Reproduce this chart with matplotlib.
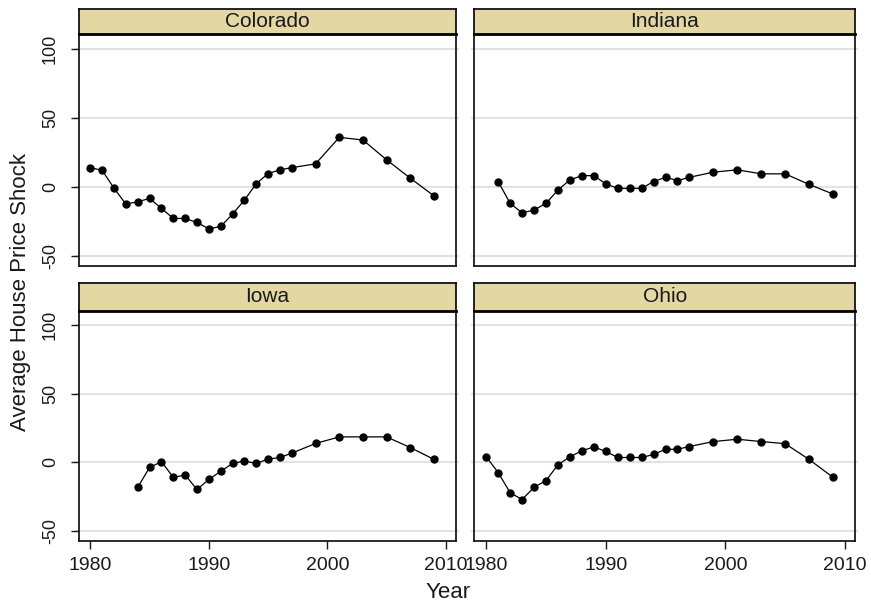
import numpy as np
import matplotlib.pyplot as plt

plt.rcParams['font.family'] = ['Liberation Sans', 'DejaVu Sans']
plt.rcParams['axes.unicode_minus'] = False

W, H = 871, 609

# annual series per state
years_colorado = list(range(1980, 1998)) + [1999, 2001, 2003, 2005, 2007, 2009]
colorado = [14, 12, -1, -12.4, -10.7, -8.3, -15.5, -22.8, -22.8, -25.7, -30.3, -28.6,
            -19.6, -9.5, 2.4, 9.7, 12.4, 14, 16.7, 35.9, 34, 19.6, 6.3, -6.5]

years_indiana = list(range(1981, 1998)) + [1999, 2001, 2003, 2005, 2007, 2009]
indiana = [3.9, -11.9, -18.7, -16.7, -11.9, -2.2, 5.1, 8.2, 8.2, 2.2, -1, -1, -1,
           3.9, 7, 4.6, 7, 10.7, 12.4, 9.5, 9.5, 1.9, -5.1]

years_iowa = list(range(1984, 1998)) + [1999, 2001, 2003, 2005, 2007, 2009]
iowa = [-18.1, -3.6, 0.5, -10.8, -9.2, -19.7, -12.3, -6.5, -0.7, 1, -0.7, 2.4, 3.6,
        6.8, 13.8, 18.6, 18.6, 18.6, 10.8, 2.2]

years_ohio = list(range(1980, 1998)) + [1999, 2001, 2003, 2005, 2007, 2009]
ohio = [4.1, -7.4, -22.1, -27, -18.1, -13.2, -1.7, 4.1, 8.5, 11.3, 8, 3.6, 3.6, 3.6,
        5.8, 9.6, 9.6, 11.6, 15.2, 16.9, 15.2, 13.7, 2.2, -10.8]

states = ['Colorado', 'Indiana', 'Iowa', 'Ohio']
x_ticks = [1980, 1990, 2000, 2010]
y_ticks = [-50, 0, 50, 100]

STRIP = '#e3d8a4'
INK = '#1a1a1a'


def rect(x0, y0, x1, y1):
    # pixel box (top-left origin) -> figure fraction
    return [x0 / W, 1 - y1 / H, (x1 - x0) / W, (y1 - y0) / H]


fig = plt.figure(figsize=(W / 100, H / 100), dpi=100)

cols = [(78.5, 456), (474.3, 855)]
rows = [(9.3, 34.3, 265.7), (283.3, 310.7, 540.7)]
series = [(years_colorado, colorado), (years_indiana, indiana),
          (years_iowa, iowa), (years_ohio, ohio)]

for i, name in enumerate(states):
    r, c = divmod(i, 2)
    x0, x1 = cols[c]
    s0, s1, p1 = rows[r]

    ax = fig.add_axes(rect(x0, s1, x1, p1))
    ax.set_xlim(1979.0, 2010.85)
    ax.set_ylim(-57, 110.5)
    for v in y_ticks:
        ax.axhline(v, xmin=-0.006, xmax=1.006, color='#e2e2e2', lw=1.5,
                   clip_on=False, zorder=0)
    yrs, vals = series[i]
    ax.plot(yrs, vals, color='black', lw=0.9, marker='o', ms=5, zorder=3)

    for sp in ax.spines.values():
        sp.set_color(INK)
        sp.set_linewidth(1.3)
    ax.set_xticks(x_ticks)
    ax.set_yticks(y_ticks)
    ax.tick_params(axis='both', direction='out', length=6, width=1, color=INK,
                   labelsize=13, labelcolor=INK)
    ax.tick_params(axis='x', bottom=(r == 1), labelbottom=(r == 1), pad=6,
                   labelsize=14)
    ax.tick_params(axis='y', left=(c == 0), labelleft=(c == 0), pad=8)
    if c == 0:
        for lab in ax.get_yticklabels():
            lab.set_rotation(90)
            lab.set_va('center')

    sax = fig.add_axes(rect(x0, s0, x1, s1))
    sax.set_facecolor(STRIP)
    sax.set_xticks([])
    sax.set_yticks([])
    for sp in sax.spines.values():
        sp.set_color('black')
        sp.set_linewidth(1.2)
    sax.spines['bottom'].set_linewidth(2.0)
    sax.text(0.5, 0.5, name, ha='center', va='center', fontsize=15,
             color=INK, transform=sax.transAxes)

fig.text(21 / W, 1 - 292 / H, 'Average House Price Shock', rotation=90,
         ha='center', va='center', fontsize=16, color=INK)
fig.text(448 / W, 1 - 593 / H, 'Year', ha='center', va='center',
         fontsize=16, color=INK)

fig.savefig('out.png', dpi=100)
